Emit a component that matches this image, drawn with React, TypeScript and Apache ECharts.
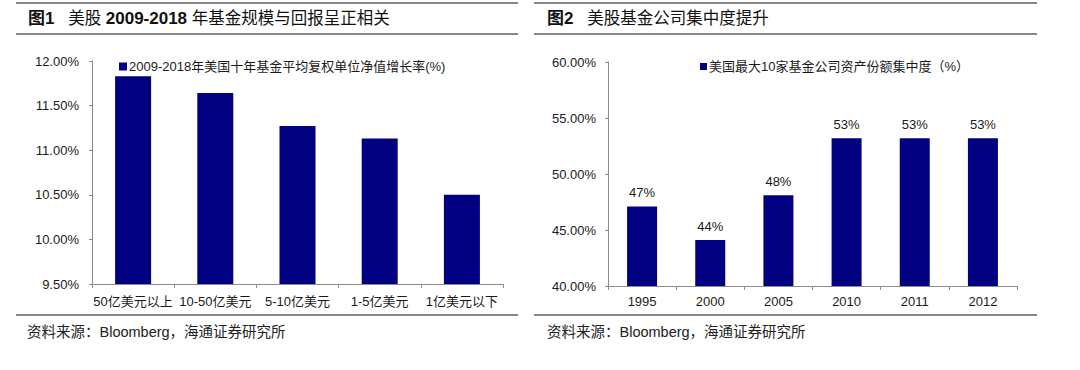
import React, { useEffect, useRef } from "react";
import * as echarts from "echarts";

const leftCategories = ["50亿美元以上", "10-50亿美元", "5-10亿美元", "1-5亿美元", "1亿美元以下"];
const leftValues = [11.83, 11.64, 11.27, 11.13, 10.5];
const leftSeriesName = "2009-2018年美国十年基金平均复权单位净值增长率(%)";

const rightCategories = ["1995", "2000", "2005", "2010", "2011", "2012"];
const rightValues = [47.1, 44.1, 48.1, 53.2, 53.2, 53.2];
const rightSeriesName = "美国最大10家基金公司资产份额集中度（%）";

const leftTitleRich = "{b|图1}{n|   美股 }{b|2009-2018}{n| 年基金规模与回报呈正相关}";
const rightTitleRich = "{b|图2}{n|   美股基金公司集中度提升}";
const sourceText = "资料来源：Bloomberg，海通证券研究所";

const FONT = "'Liberation Sans', Arial, 'Noto Sans CJK SC', sans-serif";
const BAR = "#000080";
const AXIS = "#8c8c8c";
const TXT = "#1a1a1a";

export default function App() {
  const ref = useRef<HTMLDivElement>(null);
  useEffect(() => {
    if (!ref.current) return;
    const chart = echarts.init(ref.current, undefined, { renderer: "svg" });
    const axisCommon = {
      axisLine: { show: true, lineStyle: { color: AXIS, width: 1 } },
      splitLine: { show: false },
    };
    const hline = (x1: number, x2: number, y: number) => ({
      type: "line",
      shape: { x1, y1: y, x2, y2: y },
      style: { stroke: "#111", lineWidth: 1.2 },
      silent: true,
    });
    const titleText = (x: number, y: number, t: string) => ({
      type: "text",
      x,
      y,
      style: {
        text: t,
        fill: "#111",
        verticalAlign: "middle",
        rich: {
          b: { fontFamily: FONT, fontSize: 17, fontWeight: "bold", fill: "#111" },
          n: { fontFamily: FONT, fontSize: 16.5, fontWeight: "normal", fill: "#111" },
        },
      },
      silent: true,
    });
    const text = (x: number, y: number, t: string, size: number) => ({
      type: "text",
      x,
      y,
      style: {
        text: t,
        font: `normal ${size}px ${FONT}`,
        fill: "#222",
        verticalAlign: "middle",
      },
      silent: true,
    });
    chart.setOption({
      animation: false,
      backgroundColor: "#fff",
      textStyle: { fontFamily: FONT },
      grid: [
        { left: 92, top: 61, width: 411, height: 223 },
        { left: 608, top: 62, width: 409, height: 224 },
      ],
      legend: [
        {
          data: [leftSeriesName],
          left: 114,
          top: 55,
          icon: "rect",
          itemWidth: 8,
          itemHeight: 8,
          itemGap: 0,
          textStyle: { fontSize: 13, color: TXT, fontFamily: FONT, padding: [0, 0, 0, -3] },
          selectedMode: false,
        },
        {
          data: [rightSeriesName],
          left: 695,
          top: 55,
          icon: "rect",
          itemWidth: 7,
          itemHeight: 7,
          itemGap: 0,
          textStyle: { fontSize: 13, color: TXT, fontFamily: FONT, padding: [0, 0, 0, -3] },
          selectedMode: false,
        },
      ],
      xAxis: [
        {
          type: "category",
          gridIndex: 0,
          data: leftCategories,
          ...axisCommon,
          axisTick: { show: true, length: 4, lineStyle: { color: AXIS } },
          axisLabel: { interval: 0, fontSize: 13, color: TXT, margin: 11, fontFamily: FONT },
        },
        {
          type: "category",
          gridIndex: 1,
          data: rightCategories,
          ...axisCommon,
          axisTick: { show: true, length: 4, lineStyle: { color: AXIS } },
          axisLabel: { interval: 0, fontSize: 13, color: TXT, margin: 9, fontFamily: FONT },
        },
      ],
      yAxis: [
        {
          type: "value",
          gridIndex: 0,
          min: 9.5,
          max: 12,
          interval: 0.5,
          ...axisCommon,
          axisTick: { show: true, length: 3, lineStyle: { color: AXIS } },
          axisLabel: {
            fontSize: 13,
            color: TXT,
            margin: 13,
            fontFamily: FONT,
            formatter: (v: number) => v.toFixed(2) + "%",
          },
        },
        {
          type: "value",
          gridIndex: 1,
          min: 40,
          max: 60,
          interval: 5,
          ...axisCommon,
          axisTick: { show: true, length: 3, lineStyle: { color: AXIS } },
          axisLabel: {
            fontSize: 13,
            color: TXT,
            margin: 12,
            fontFamily: FONT,
            formatter: (v: number) => v.toFixed(2) + "%",
          },
        },
      ],
      series: [
        {
          name: leftSeriesName,
          type: "bar",
          xAxisIndex: 0,
          yAxisIndex: 0,
          data: leftValues,
          barWidth: 36,
          itemStyle: { color: BAR },
        },
        {
          name: rightSeriesName,
          type: "bar",
          xAxisIndex: 1,
          yAxisIndex: 1,
          data: rightValues,
          barWidth: 30,
          itemStyle: { color: BAR },
          label: {
            show: true,
            position: "top",
            distance: 7,
            fontSize: 13,
            color: TXT,
            fontFamily: FONT,
            formatter: (p: any) => Math.round(p.value) + "%",
          },
        },
      ],
      graphic: [
        hline(16, 518, 3),
        hline(16, 518, 34),
        hline(534, 1037, 3),
        hline(534, 1037, 34),
        hline(16, 518, 315),
        hline(534, 1037, 315),
        titleText(28, 18, leftTitleRich),
        titleText(547, 18, rightTitleRich),
        text(27, 332, sourceText, 14.5),
        text(547, 332, sourceText, 14.5),
      ],
    });
    return () => chart.dispose();
  }, []);
  return (
    <div
      ref={ref}
      style={{ position: "fixed", left: 0, top: 0, width: 1080, height: 370, background: "#fff" }}
    />
  );
}
